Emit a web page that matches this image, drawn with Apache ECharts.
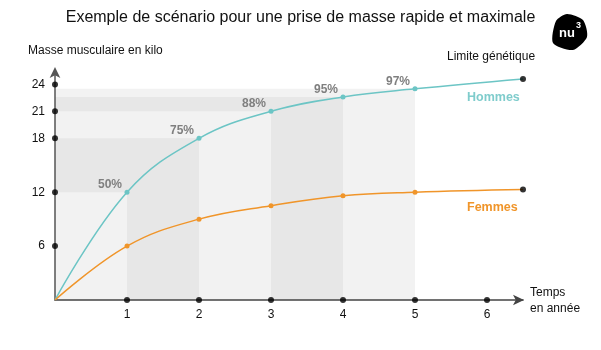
<!DOCTYPE html>
<html>
<head>
<meta charset="utf-8">
<script src="https://cdn.jsdelivr.net/npm/echarts@6/dist/echarts.min.js"></script>
<style>html,body{margin:0;padding:0;background:#fff}#c{width:601px;height:350px}</style>
</head>
<body>
<div id="c"></div>
<script>
var years = [0, 1, 2, 3, 4, 5, 6.5];
var hommes = [0, 12, 18, 21, 22.6, 23.5, 24.6];
var femmes = [0, 6, 9, 10.5, 11.6, 12, 12.3];
var pctLabels = ['', '50%', '75%', '88%', '95%', '97%', ''];
var yTicks = [6, 12, 18, 21, 24];
var xTicks = [1, 2, 3, 4, 5, 6];
var darkSteps = [1, 3];     // dark L-shaped bands from step i to i+1
var lightUntil = 5;         // light background up to this step

var FONT = '"Liberation Sans", Arial, sans-serif';
var TEAL = '#6cc5c5', ORANGE = '#f0952a';

// shading rectangles [x0, x1, y0, y1, shade]
var rects = [[0, years[lightUntil], 0, hommes[lightUntil], 0]];
darkSteps.forEach(function (i) {
  rects.push([0, years[i + 1], hommes[i], hommes[i + 1], 1]);
  rects.push([years[i], years[i + 1], 0, hommes[i + 1], 1]);
});

function lineData(vals) {
  return years.map(function (x, i) {
    var d = { value: [x, vals[i]] };
    if (i === 0 || i === years.length - 1) d.symbol = 'none';
    return d;
  });
}

var last = years.length - 1;
var chart = echarts.init(document.getElementById('c'), null, { renderer: 'canvas' });
chart.setOption({
  animation: false,
  backgroundColor: '#fff',
  textStyle: { fontFamily: FONT },
  grid: { left: 55, top: 70, width: 468, height: 230, containLabel: false },
  xAxis: {
    type: 'value', min: 0, max: 6.5, interval: 1,
    axisLine: { show: true, lineStyle: { color: '#444', width: 1.5 }, symbol: ['none', 'arrow'], symbolSize: [8, 11], symbolOffset: [0, 1] },
    axisTick: { show: false },
    splitLine: { show: false },
    axisLabel: { customValues: xTicks, color: '#111', fontSize: 12, margin: 9, fontFamily: FONT }
  },
  yAxis: {
    type: 'value', min: 0, max: 25.6,
    axisLine: { show: true, lineStyle: { color: '#555', width: 1.5 }, symbol: ['none', 'arrow'], symbolSize: [8, 11], symbolOffset: [0, 3] },
    axisTick: { show: false },
    splitLine: { show: false },
    axisLabel: { customValues: yTicks, color: '#111', fontSize: 12, margin: 10, fontFamily: FONT }
  },
  series: [
    {
      type: 'custom', z: 0, silent: true,
      data: rects,
      renderItem: function (params, api) {
        var p0 = api.coord([api.value(0), api.value(3)]);
        var p1 = api.coord([api.value(1), api.value(2)]);
        return {
          type: 'rect',
          shape: { x: p0[0], y: p0[1], width: p1[0] - p0[0], height: p1[1] - p0[1] },
          style: { fill: api.value(4) ? '#e7e7e7' : '#f2f2f2' }
        };
      }
    },
    {
      name: 'Hommes', type: 'line', z: 3,
      data: lineData(hommes),
      smooth: 0.4,
      symbol: 'circle', symbolSize: 5,
      lineStyle: { color: TEAL, width: 1.5 },
      itemStyle: { color: TEAL },
      label: {
        show: true, position: 'top', distance: 0, offset: [-17, 1],
        formatter: function (p) { return pctLabels[p.dataIndex]; },
        color: '#7f7f7f', fontSize: 12, fontWeight: 'bold', fontFamily: FONT
      }
    },
    {
      name: 'Femmes', type: 'line', z: 3,
      data: lineData(femmes),
      smooth: 0.4,
      symbol: 'circle', symbolSize: 5,
      lineStyle: { color: ORANGE, width: 1.5 },
      itemStyle: { color: ORANGE }
    },
    {
      type: 'scatter', z: 5, clip: false, silent: true,
      symbolSize: 6, itemStyle: { color: '#000' },
      data: [[years[last], hommes[last]], [years[last], femmes[last]]]
        .concat(yTicks.map(function (v) { return [0, v]; }))
        .concat(xTicks.map(function (v) { return [v, 0]; }))
    }
  ],
  graphic: [
    { type: 'text', left: 'center', top: 10, style: { text: 'Exemple de scénario pour une prise de masse rapide et maximale', fontSize: 16, fill: '#111', fontFamily: FONT }, x: -3 },
    { type: 'text', left: 28, top: 45, style: { text: 'Masse musculaire en kilo', fontSize: 12, fill: '#111', fontFamily: FONT } },
    { type: 'text', left: 447, top: 51, style: { text: 'Limite génétique', fontSize: 12, fill: '#111', fontFamily: FONT } },
    { type: 'text', left: 467, top: 91, style: { text: 'Hommes', fontSize: 12.5, fontWeight: 'bold', fill: '#7fcccc', fontFamily: FONT } },
    { type: 'text', left: 467, top: 201, style: { text: 'Femmes', fontSize: 12.5, fontWeight: 'bold', fill: ORANGE, fontFamily: FONT } },
    { type: 'text', left: 530, top: 285, style: { text: 'Temps\nen année', fontSize: 12, lineHeight: 16, fill: '#111', fontFamily: FONT } },
    { type: 'polygon', shape: { points: [[556, 21], [567, 14], [583, 20], [587, 37], [573, 50], [553, 43]], smooth: 0.25 }, style: { fill: '#000' } },
    { type: 'text', left: 559, top: 27, style: { text: 'nu', fontSize: 13, fontWeight: 'bold', fill: '#fff', fontFamily: FONT } },
    { type: 'text', left: 576, top: 21, style: { text: '3', fontSize: 9, fontWeight: 'bold', fill: '#fff', fontFamily: FONT } }
  ]
});
</script>
</body>
</html>
